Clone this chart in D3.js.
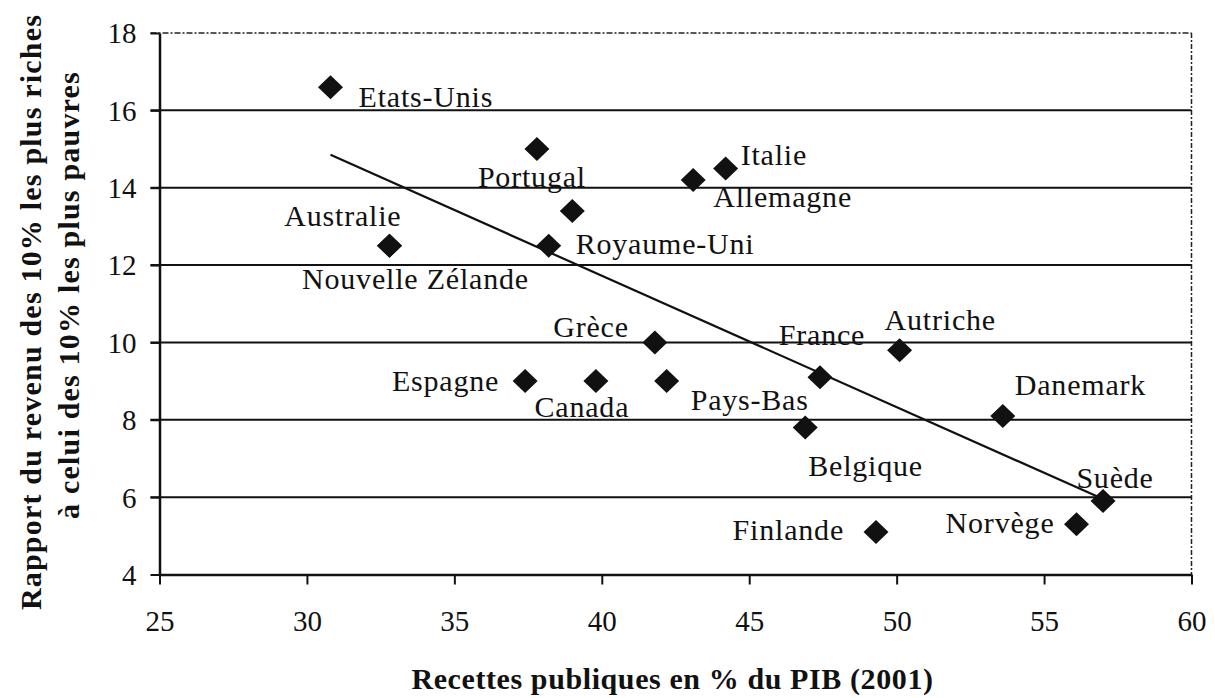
<!DOCTYPE html>
<html>
<head>
<meta charset="utf-8">
<script src="https://cdn.jsdelivr.net/npm/d3@7/dist/d3.min.js"></script>
<style>
  body { margin: 0; background: #fff; }
  svg text { font-family: "Liberation Serif", "Times New Roman", serif; fill: #111; }
</style>
</head>
<body>
<div id="chart"></div>
<script>
// Values
var countries = ["Etats-Unis", "Portugal", "", "Italie", "Allemagne", "Australie", "Nouvelle Zélande",
                 "Royaume-Uni", "Grèce", "Autriche", "France", "Espagne", "Canada", "Pays-Bas",
                 "Belgique", "Danemark", "Suède", "Finlande", "Norvège"];
var recettes = [30.8, 37.8, 39.0, 44.2, 43.1, 32.8, 32.8, 38.2, 41.8, 50.1, 47.4, 37.4, 39.8, 42.2,
                46.9, 53.6, 57.0, 49.3, 56.1];
var rapport = [16.6, 15.0, 13.4, 14.5, 14.2, 12.5, 12.5, 12.5, 10.0, 9.8, 9.1, 9.0, 9.0, 9.0,
               7.8, 8.1, 5.9, 5.1, 5.3];
// trend line end points
var trendX = [30.8, 57.0];
var trendY = [14.85, 5.95];

var xTicks = [25, 30, 35, 40, 45, 50, 55, 60];
var yTicks = [4, 6, 8, 10, 12, 14, 16, 18];

var xTitle = "Recettes publiques en % du PIB (2001)";
var yTitle1 = "Rapport du revenu des 10% les plus riches";
var yTitle2 = "à celui des 10% les plus pauvres";

// where each label sits relative to its diamond (px)
var labelPos = {
  "Etats-Unis": [28, 20, "start"],
  "Portugal": [-5, 38, "middle"],
  "Italie": [15, -3, "start"],
  "Allemagne": [20, 27, "start"],
  "Australie": [12, -20, "end"],
  "Nouvelle Zélande": [26, 43, "middle"],
  "Royaume-Uni": [27, 8, "start"],
  "Grèce": [-26, -5, "end"],
  "Autriche": [-15, -20, "start"],
  "France": [2, -32, "middle"],
  "Espagne": [-26, 10, "end"],
  "Canada": [-14, 36, "middle"],
  "Pays-Bas": [24, 29, "start"],
  "Belgique": [3, 48, "start"],
  "Danemark": [12, -21, "start"],
  "Suède": [12, -13, "middle"],
  "Finlande": [-32, 8, "end"],
  "Norvège": [-22, 9, "end"]
};

var serif = '"Liberation Serif", "Times New Roman", serif';
var width = 1215, height = 698;
var plotLeft = 159.5, plotRight = 1191.5, plotTop = 33, plotBottom = 574.5;

var svg = d3.select("#chart").append("svg")
    .attr("width", width)
    .attr("height", height);

var x = d3.scaleLinear().domain([25, 60]).range([plotLeft, plotRight]);
var y = d3.scaleLinear().domain([4, 18]).range([plotBottom, plotTop]);

//Horizontal grid lines
svg.append("g").selectAll("line")
    .data(yTicks.filter(function(d) { return d > 4 && d < 18; }))
    .enter().append("line")
    .attr("x1", plotLeft - 9).attr("x2", plotRight)
    .attr("y1", function(d) { return y(d); })
    .attr("y2", function(d) { return y(d); })
    .attr("stroke", "#111").attr("stroke-width", 2);

//Top and right border, dotted like the scan
svg.append("line")
    .attr("x1", plotLeft - 9).attr("x2", plotRight).attr("y1", y(18)).attr("y2", y(18))
    .attr("stroke", "#222").attr("stroke-width", 1.5).attr("stroke-dasharray", "6,2,2,2");
svg.append("line")
    .attr("x1", plotRight).attr("x2", plotRight).attr("y1", y(18)).attr("y2", y(4))
    .attr("stroke", "#222").attr("stroke-width", 1.5).attr("stroke-dasharray", "5,2,2,2");

//Axes
var xAxis = d3.axisBottom(x).tickValues(xTicks).tickSize(10).tickSizeOuter(0).tickPadding(26);
var yAxis = d3.axisLeft(y).tickValues(yTicks).tickSize(9).tickSizeOuter(0).tickPadding(14);

var gx = svg.append("g").attr("transform", "translate(0," + plotBottom + ")").call(xAxis);
var gy = svg.append("g").attr("transform", "translate(" + plotLeft + ",0)").call(yAxis);

[gx, gy].forEach(function(g) {
  g.select(".domain").attr("stroke", "#111").attr("stroke-width", 2.5);
  g.selectAll(".tick line").attr("stroke", "#111").attr("stroke-width", 2);
  g.selectAll(".tick text")
    .style("font-family", serif)
    .style("font-size", "29px")
    .attr("fill", "#111");
});
gy.selectAll(".tick text").attr("dy", "0.34em");

//Trend line
svg.append("line")
    .attr("x1", x(trendX[0])).attr("y1", y(trendY[0]))
    .attr("x2", x(trendX[1])).attr("y2", y(trendY[1]))
    .attr("stroke", "#111").attr("stroke-width", 2.2);

//Diamonds
var diamond = "M0,-12L12.5,0L0,12L-12.5,0Z";
svg.append("g").selectAll("path")
    .data(countries)
    .enter().append("path")
    .attr("d", diamond)
    .attr("transform", function(d, i) { return "translate(" + x(recettes[i]) + "," + y(rapport[i]) + ")"; })
    .attr("fill", "#111");

//Country labels
svg.append("g").selectAll("text")
    .data(countries.filter(function(d) { return d !== ""; }))
    .enter().append("text")
    .attr("x", function(d) { var i = countries.indexOf(d); return x(recettes[i]) + labelPos[d][0]; })
    .attr("y", function(d) { var i = countries.indexOf(d); return y(rapport[i]) + labelPos[d][1]; })
    .attr("text-anchor", function(d) { return labelPos[d][2]; })
    .style("font-family", serif)
    .style("font-size", "30px")
    .style("letter-spacing", "0.8px")
    .text(function(d) { return d; });

//Axis titles
svg.append("text")
    .attr("x", (plotLeft + plotRight) / 2 - 3).attr("y", 689)
    .attr("text-anchor", "middle")
    .style("font-family", serif)
    .style("font-size", "30px").style("font-weight", "bold").style("letter-spacing", "0.6px")
    .text(xTitle);

svg.append("text")
    .attr("transform", "translate(41,312) rotate(-90)")
    .attr("text-anchor", "middle")
    .style("font-family", serif)
    .style("font-size", "30px").style("font-weight", "bold").style("letter-spacing", "1.2px")
    .text(yTitle1);

svg.append("text")
    .attr("transform", "translate(79,295) rotate(-90)")
    .attr("text-anchor", "middle")
    .style("font-family", serif)
    .style("font-size", "30px").style("font-weight", "bold").style("letter-spacing", "1.2px")
    .text(yTitle2);
</script>
</body>
</html>
